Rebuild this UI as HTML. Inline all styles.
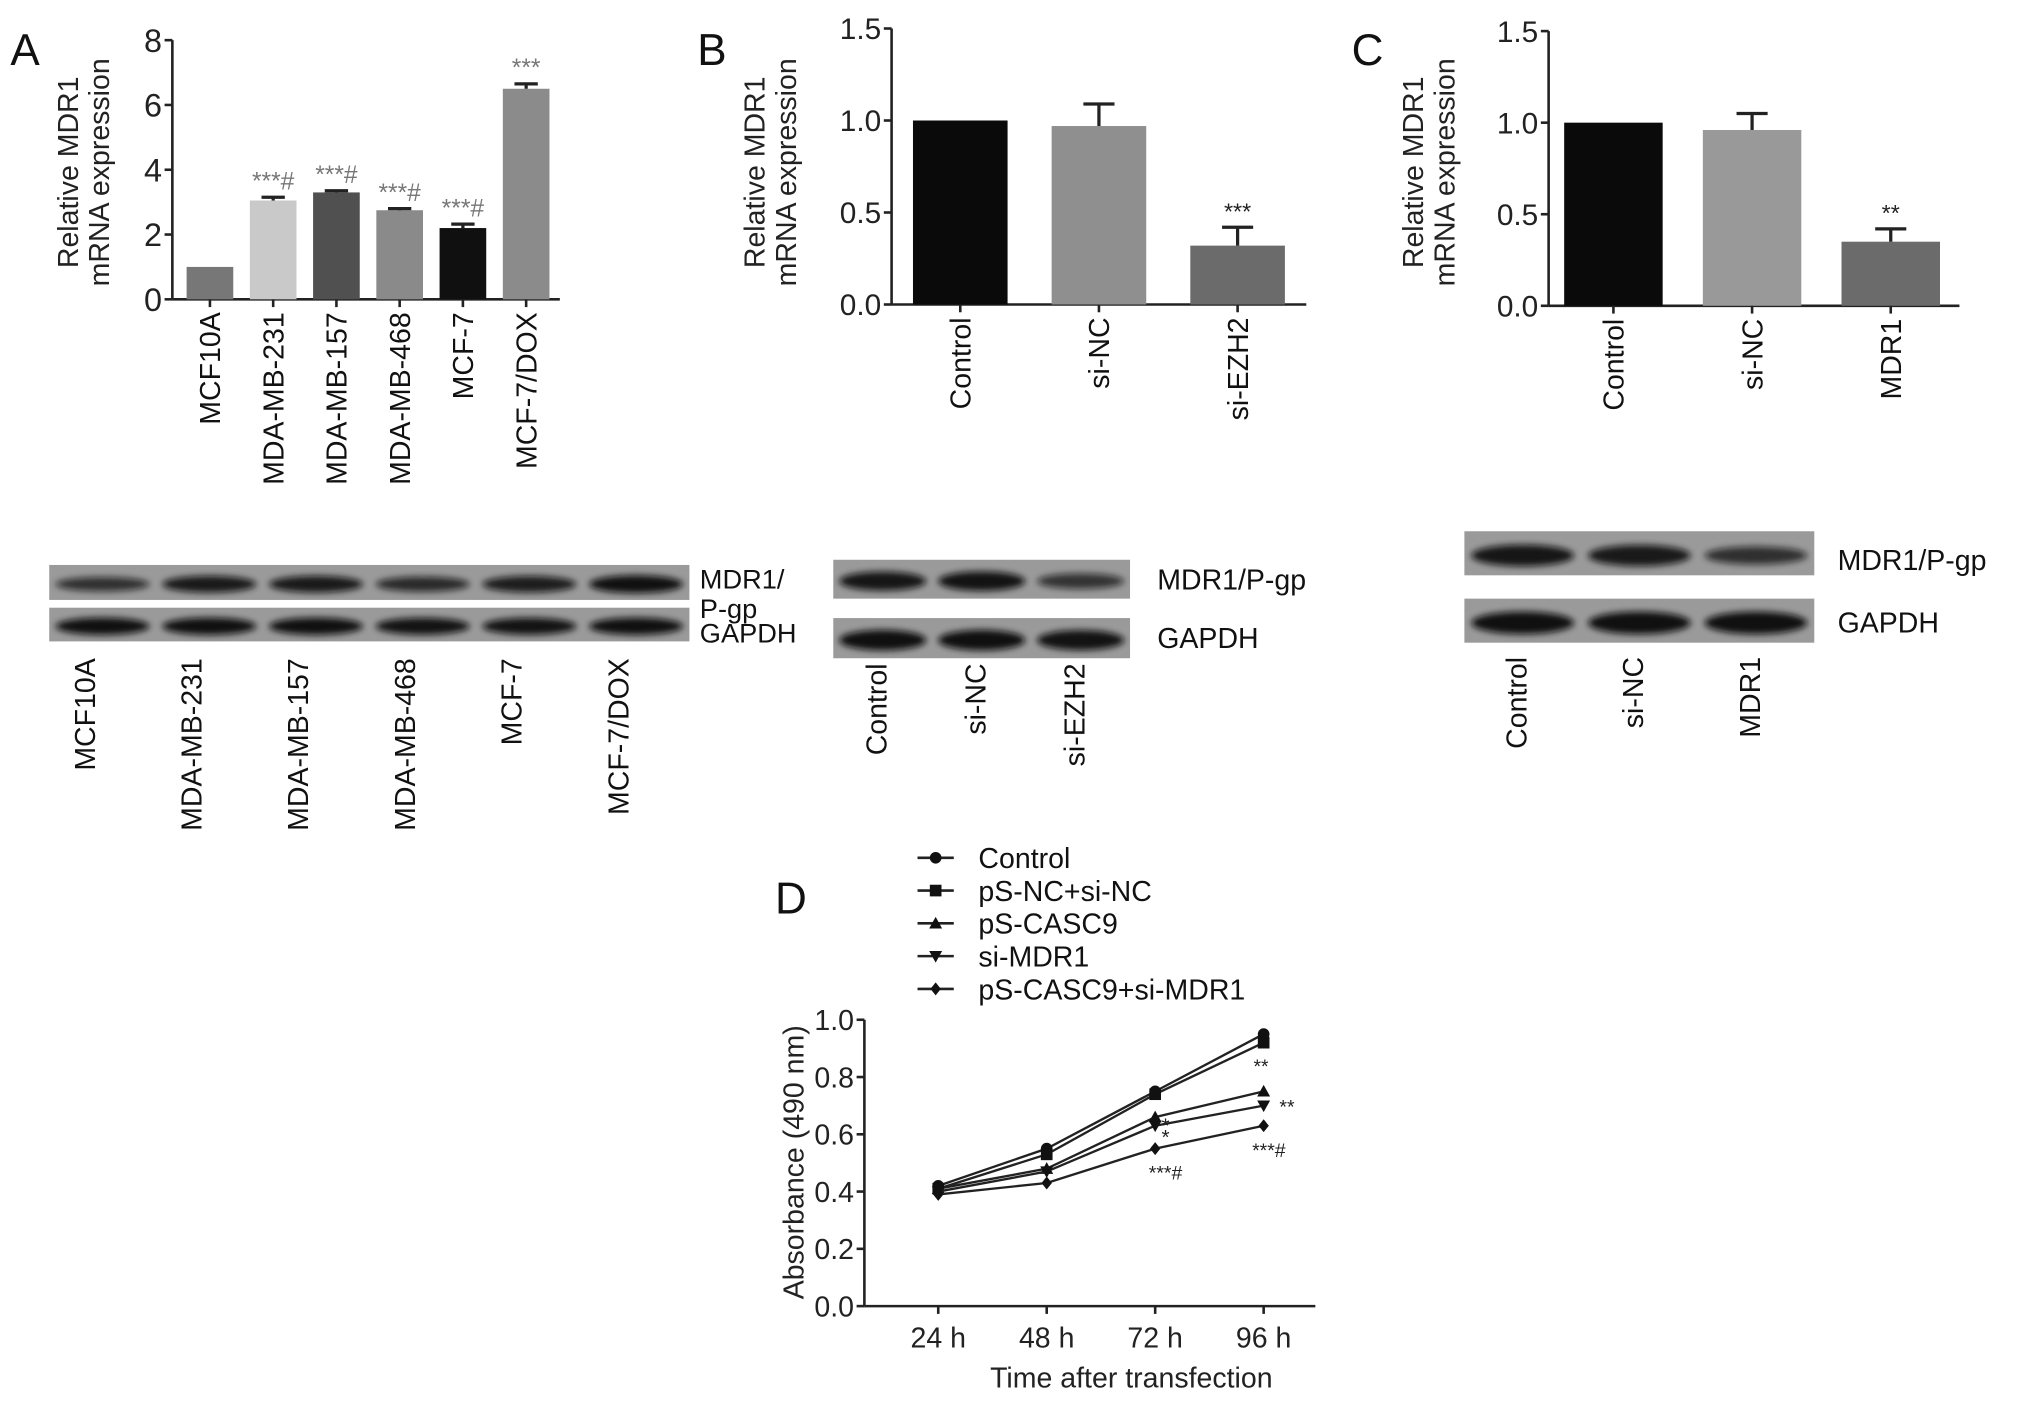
<!DOCTYPE html>
<html><head><meta charset="utf-8"><style>
html,body{margin:0;padding:0;background:#fff;}
svg{display:block;font-family:"Liberation Sans",Arial,sans-serif;}
</style></head><body>
<svg id="fig" width="2032" height="1402" viewBox="0 0 1568 1082" preserveAspectRatio="none" xmlns="http://www.w3.org/2000/svg">
<defs>
<filter id="blur" x="-20%" y="-50%" width="140%" height="200%"><feGaussianBlur stdDeviation="2.5"/></filter>
</defs>
<g id="root"></g>
</svg>
<script>
// ===== Panel A data =====
const catsA = ["MCF10A","MDA-MB-231","MDA-MB-157","MDA-MB-468","MCF-7","MCF-7/DOX"];
const valsA = [1.0, 3.05, 3.3, 2.75, 2.2, 6.5];
const errA = [0, 0.1, 0.05, 0.05, 0.12, 0.15];
const sigA = ["", "***#", "***#", "***#", "***#", "***"];
const ticksA = [0,2,4,6,8];
// ===== Panel B data =====
const catsB = ["Control","si-NC","si-EZH2"];
const valsB = [1.0, 0.97, 0.32];
const errB = [0, 0.12, 0.1];
const sigB = ["", "", "***"];
// ===== Panel C data =====
const catsC = ["Control","si-NC","MDR1"];
const valsC = [1.0, 0.96, 0.35];
const errC = [0, 0.09, 0.07];
const sigC = ["", "", "**"];
const ticksBC = [0.0, 0.5, 1.0, 1.5];
// ===== Panel D data =====
const timesD = ["24 h","48 h","72 h","96 h"];
const seriesNames = ["Control","pS-NC+si-NC","pS-CASC9","si-MDR1","pS-CASC9+si-MDR1"];
const sControl = [0.42, 0.55, 0.75, 0.95];
const sNC = [0.41, 0.53, 0.74, 0.92];
const sCASC9 = [0.41, 0.48, 0.66, 0.75];
const sMDR1 = [0.40, 0.47, 0.63, 0.70];
const sCombo = [0.39, 0.43, 0.55, 0.63];
const ticksD = [0.0, 0.2, 0.4, 0.6, 0.8, 1.0];

const NS = "http://www.w3.org/2000/svg";
const root = document.getElementById("root");
function el(tag, attrs, parent, text){
  const e = document.createElementNS(NS, tag);
  for (const k in attrs) e.setAttribute(k, attrs[k]);
  if (text !== undefined) e.textContent = text;
  (parent || root).appendChild(e);
  return e;
}

function barPanel(cfg){
  const g = el("g", {});
  
  
  const y = v => cfg.y0 - (v - cfg.min) / (cfg.max - cfg.min) * (cfg.y0 - cfg.yTop);
  const x = i => cfg.x0 + cfg.first + i * cfg.step;
  const ya = el("line", {x1:cfg.x0, y1:cfg.yTop, x2:cfg.x0, y2:cfg.y0, stroke:"#222", "stroke-width":2}, g);
  
  
  const xa = el("line", {x1:cfg.x0, y1:cfg.y0, x2:cfg.xEnd, y2:cfg.y0, stroke:"#222", "stroke-width":2}, g);
  
  
  cfg.ticks.forEach(t => {
    el("line", {x1:cfg.x0-6, y1:y(t), x2:cfg.x0, y2:y(t), stroke:"#222", "stroke-width":2}, g);
    const tl = el("text", {x:cfg.x0-8, y:y(t)+cfg.tickFs*0.36, "text-anchor":"end", "font-size":cfg.tickFs, fill:"#222"}, g, cfg.tickFmt(t));
    
    
  });
  cfg.cats.forEach((c, i) => {
    const cx = x(i);
    const top = y(cfg.vals[i]);
    const r = el("rect", {x:cx-cfg.bw/2, y:top, width:cfg.bw, height:cfg.y0-top, fill:cfg.colors[i]}, g);
    
    
    if (cfg.errs[i] > 0) {
      const et = y(cfg.vals[i] + cfg.errs[i]);
      el("line", {x1:cx, y1:top, x2:cx, y2:et, stroke:"#222", "stroke-width":2.5}, g);
      el("line", {x1:cx-cfg.cap, y1:et, x2:cx+cfg.cap, y2:et, stroke:"#222", "stroke-width":2.5}, g);
    }
    if (cfg.sig[i]) {
      const st = y(cfg.vals[i] + cfg.errs[i]) - 6;
      const s = el("text", {x:cx, y:st, "text-anchor":"middle", "font-size":cfg.sigFs, fill:cfg.sigColor}, g, cfg.sig[i]);
      
      
    }
    el("line", {x1:cx, y1:cfg.y0, x2:cx, y2:cfg.y0+6, stroke:"#222", "stroke-width":2}, g);
    const lab = el("text", {transform:`translate(${cx+cfg.labFs*0.36},${cfg.y0+10}) rotate(-90)`, "text-anchor":"end", "font-size":cfg.labFs, fill:"#111"}, g, c);
    
    
  });
  const yl = el("text", {transform:`translate(${cfg.ylx},${cfg.ylc}) rotate(-90)`, "text-anchor":"middle", "font-size":cfg.ylFs, fill:"#222"}, g);
  
  
  el("tspan", {x:0, dy:0}, yl, "Relative MDR1");
  el("tspan", {x:0, dy:cfg.ylFs*1.1}, yl, "mRNA expression");
  const pl = el("text", {x:cfg.lx, y:cfg.ly, "font-size":34, fill:"#111"}, g, cfg.letter);
  
  
}

barPanel({name:"panel-a-chart", letter:"A", lx:8, ly:50, x0:133, xEnd:432, yTop:31, y0:231, min:0, max:8,
  first:29, step:48.8, bw:36, cap:9, cats:catsA, vals:valsA, errs:errA, sig:sigA,
  colors:["#777","#c9c9c9","#505050","#8a8a8a","#101010","#8b8b8b"], ticks:ticksA, tickFmt:t=>String(t),
  tickFs:25, labFs:22, sigFs:19, sigColor:"#777", ylx:60, ylc:133, ylFs:22});
barPanel({name:"panel-b-chart", letter:"B", lx:538, ly:50, x0:688, xEnd:1008, yTop:22, y0:235, min:0, max:1.5,
  first:53, step:107, bw:73, cap:12, cats:catsB, vals:valsB, errs:errB, sig:sigB,
  colors:["#0a0a0a","#8f8f8f","#6b6b6b"], ticks:ticksBC, tickFmt:t=>t.toFixed(1),
  tickFs:23, labFs:22, sigFs:18, sigColor:"#222", ylx:590, ylc:133, ylFs:22});
barPanel({name:"panel-c-chart", letter:"C", lx:1043, ly:50, x0:1195, xEnd:1512, yTop:24, y0:236, min:0, max:1.5,
  first:50, step:107, bw:76, cap:12, cats:catsC, vals:valsC, errs:errC, sig:sigC,
  colors:["#0a0a0a","#999","#6b6b6b"], ticks:ticksBC, tickFmt:t=>t.toFixed(1),
  tickFs:23, labFs:22, sigFs:18, sigColor:"#222", ylx:1098, ylc:133, ylFs:22});

// ===== Western blots =====
function blot(cfg){
  const g = el("g", {});
  
  
  cfg.strips.forEach(s => {
    const r = el("rect", {x:cfg.x, y:s.y, width:cfg.w, height:s.h, fill:"#9a9a9a"}, g);
    
    
    const lw = cfg.w / cfg.lanes.length;
    s.int.forEach((k, i) => {
      const cx = cfg.x + lw*(i+0.5);
      el("ellipse", {cx:cx, cy:s.y+s.h*0.55, rx:lw*0.44, ry:s.h*0.26*(0.6+k*0.4), fill:"#111", opacity:0.55+0.45*k, filter:"url(#blur)"}, g);
    });
    s.labels.forEach((t, j) => {
      const lt = el("text", {x:cfg.labX, y:s.ly + j*23, "font-size":cfg.labFs, fill:"#111"}, g, t);
      
      
    });
  });
  const lw = cfg.w / cfg.lanes.length;
  cfg.lanes.forEach((t, i) => {
    const cx = cfg.x + lw*(i+0.5) + cfg.lanesShift;
    const lt = el("text", {transform:`translate(${cx+8},${cfg.laneY}) rotate(-90)`, "text-anchor":"end", "font-size":22, fill:"#111"}, g, t);
    
    
  });
}
blot({name:"blot-a", x:38, w:494, lanes:catsA, lanesShift:-14, laneY:508, labX:540, labFs:21,
  strips:[{name:"mdr1-band-strip", y:436, h:27, int:[0.45,0.8,0.8,0.55,0.75,0.95], labels:["MDR1/","P-gp"], ly:454},
          {name:"gapdh-band-strip", y:469, h:26, int:[0.95,0.95,0.95,0.9,0.9,0.95], labels:["GAPDH"], ly:496}]});
blot({name:"blot-b", x:643, w:229, lanes:catsB, lanesShift:-5, laneY:512, labX:893, labFs:22,
  strips:[{name:"mdr1-band-strip", y:432, h:30, int:[0.85,0.9,0.4], labels:["MDR1/P-gp"], ly:455},
          {name:"gapdh-band-strip", y:477, h:31, int:[0.95,0.95,0.9], labels:["GAPDH"], ly:500}]});
blot({name:"blot-c", x:1130, w:270, lanes:catsC, lanesShift:-5, laneY:507, labX:1418, labFs:22,
  strips:[{name:"mdr1-band-strip", y:410, h:34, int:[0.85,0.8,0.45], labels:["MDR1/P-gp"], ly:440},
          {name:"gapdh-band-strip", y:462, h:34, int:[0.95,0.95,0.95], labels:["GAPDH"], ly:488}]});

// ===== Panel D line chart =====
(function(){
  const g = el("g", {});
  
  
  const x0 = 667, xEnd = 1015, yTop = 787, y0 = 1008;
  const y = v => y0 - v * (y0 - yTop) / 1.0;
  const x = i => 724 + i * 83.7;
  el("line", {x1:x0, y1:yTop, x2:x0, y2:y0, stroke:"#222", "stroke-width":2}, g);
  el("line", {x1:x0, y1:y0, x2:xEnd, y2:y0, stroke:"#222", "stroke-width":2}, g);
  ticksD.forEach(t => {
    el("line", {x1:x0-6, y1:y(t), x2:x0, y2:y(t), stroke:"#222", "stroke-width":2}, g);
    const tl = el("text", {x:x0-8, y:y(t)+8, "text-anchor":"end", "font-size":22, fill:"#222"}, g, t.toFixed(1));
    
    
  });
  timesD.forEach((t, i) => {
    el("line", {x1:x(i), y1:y0, x2:x(i), y2:y0+6, stroke:"#222", "stroke-width":2}, g);
    const tl = el("text", {x:x(i), y:1040, "text-anchor":"middle", "font-size":22, fill:"#222"}, g, t);
    
    
  });
  const xt = el("text", {x:873, y:1071, "text-anchor":"middle", "font-size":22, fill:"#222"}, g, "Time after transfection");
  
  
  const yt = el("text", {transform:"translate(620,897) rotate(-90)", "text-anchor":"middle", "font-size":22, fill:"#222"}, g, "Absorbance (490 nm)");
  
  
  const pl = el("text", {x:598, y:705, "font-size":34, fill:"#111"}, g, "D");
  
  

  const all = [sControl, sNC, sCASC9, sMDR1, sCombo];
  const markers = ["circle","square","tri","tridown","diamond"];
  function marker(type, cx, cy, parent){
    if (type === "circle") return el("circle", {cx:cx, cy:cy, r:4.5, fill:"#111"}, parent);
    if (type === "square") return el("rect", {x:cx-4.5, y:cy-4.5, width:9, height:9, fill:"#111"}, parent);
    if (type === "tri") return el("polygon", {points:`${cx},${cy-5} ${cx+5},${cy+4} ${cx-5},${cy+4}`, fill:"#111"}, parent);
    if (type === "tridown") return el("polygon", {points:`${cx},${cy+5} ${cx+5},${cy-4} ${cx-5},${cy-4}`, fill:"#111"}, parent);
    return el("polygon", {points:`${cx},${cy-5} ${cx+4},${cy} ${cx},${cy+5} ${cx-4},${cy}`, fill:"#111"}, parent);
  }
  all.forEach((s, k) => {
    const sg = el("g", {}, g);
    
    
    const pts = s.map((v, i) => `${x(i)},${y(v)}`).join(" ");
    el("polyline", {points:pts, fill:"none", stroke:"#222", "stroke-width":1.8}, sg);
    s.forEach((v, i) => marker(markers[k], x(i), y(v), sg));
    const ly = 662 + k * 25.3;
    const lg = el("g", {}, g);
    
    
    el("line", {x1:708, y1:ly, x2:736, y2:ly, stroke:"#222", "stroke-width":2}, lg);
    marker(markers[k], 722, ly, lg);
    el("text", {x:755, y:ly+8, "font-size":22, fill:"#111"}, lg, seriesNames[k]);
  });
  const ann = [["*",2,sCASC9,8,12,16],["*",2,sMDR1,8,14,16],["***#",2,sCombo,8,24,15],["**",3,sCASC9,-2,-14,15],["**",3,sMDR1,18,6,15],["***#",3,sCombo,4,24,15]];
  ann.forEach(a => {
    const t = el("text", {x:x(a[1])+a[3], y:y(a[2][a[1]])+a[4], "text-anchor":"middle", "font-size":a[5], fill:"#222"}, g, a[0]);
    
    
  });
})();
</script>
</body></html>
